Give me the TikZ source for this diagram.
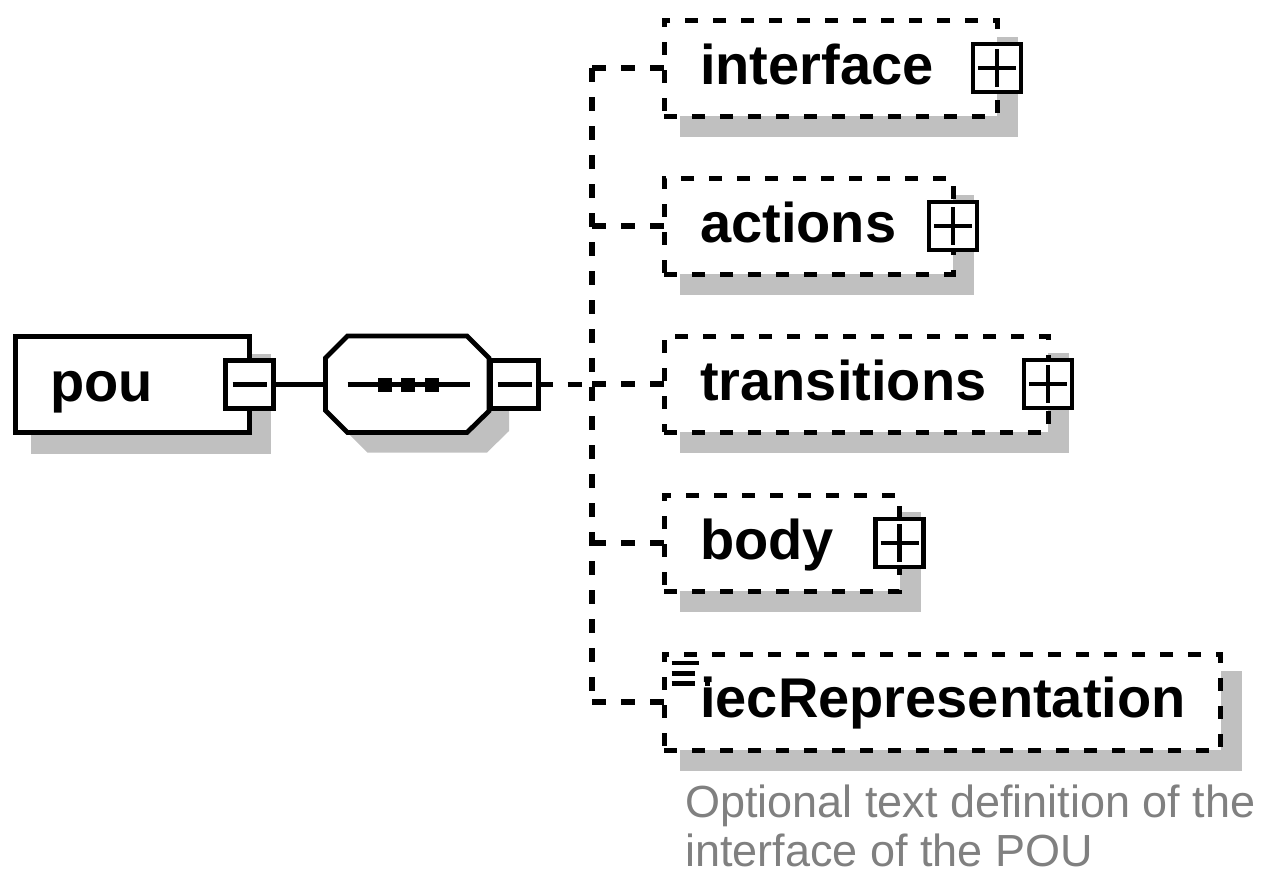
\documentclass[tikz,border=0pt]{standalone}
\usepackage{fontspec}
\newfontfamily\lib{Liberation Sans}
\usetikzlibrary{calc}
\definecolor{shadowgray}{HTML}{C0C0C0}
\definecolor{descgray}{HTML}{808080}
\begin{document}
\begin{tikzpicture}[x=1pt,y=-1pt,
  solidbox/.style={draw, line width=5pt, fill=white, rectangle, inner sep=0pt, outer sep=0pt},
  dashbox/.style={draw, line width=5pt, dash pattern=on 13pt off 15pt, fill=white, rectangle, inner sep=0pt, outer sep=0pt, minimum height=96pt},
  conn/.style={line width=4.8pt},
  dconn/.style={line width=5.4pt, dash pattern=on 14pt off 15pt},
  togglebox/.style={draw, line width=4.8pt, fill=white, rectangle, minimum size=48pt, inner sep=0pt, outer sep=0pt},
  signline/.style={line width=4.4pt},
  nametext/.style={font=\lib\bfseries\fontsize{56}{60}\selectfont, inner sep=0pt, anchor=base west},
  desctext/.style={font=\lib\fontsize{45}{50}\selectfont, text=descgray, inner sep=0pt, text depth=0pt, anchor=base west}
]
\useasboundingbox (0,0) rectangle (1263,873);

% ---------- boxes (geometry only, drawn later) ----------
\path
  (132.25,384.5) node[solidbox, minimum width=234.5pt, minimum height=96pt, draw=none, fill=none] (pou) {}
  (830.5,68)     node[dashbox, minimum width=333pt, draw=none, fill=none] (interface) {}
  (808.5,226)    node[dashbox, minimum width=289pt, draw=none, fill=none] (actions) {}
  (856,384)      node[dashbox, minimum width=384pt, draw=none, fill=none] (transitions) {}
  (781.75,543)   node[dashbox, minimum width=235.5pt, draw=none, fill=none] (body) {}
  (942.25,702)   node[dashbox, minimum width=556.5pt, draw=none, fill=none] (iec) {};

% octagon coordinates
\coordinate (o1) at (347.5,336);
\coordinate (o2) at (467,336);
\coordinate (o3) at (489,358);
\coordinate (o4) at (489,411);
\coordinate (o5) at (467,432.5);
\coordinate (o6) at (347.5,432.5);
\coordinate (o7) at (325.5,410.5);
\coordinate (o8) at (325.5,358);
\coordinate (seqL) at (325.5,384.5);
\coordinate (spine) at (592,384.5);

% ---------- shadows ----------
\foreach \n in {pou,interface,actions,transitions,body,iec}{
  \fill[shadowgray] ($(\n.north west)+(16,17)$) rectangle ($(\n.south east)+(21,21)$);
}
\fill[shadowgray] ($(o1)+(20,20)$) -- ($(o2)+(20,20)$) -- ($(o3)+(20,20)$) -- ($(o4)+(20,20)$)
  -- ($(o5)+(20,20)$) -- ($(o6)+(20,20)$) -- ($(o7)+(20,20)$) -- ($(o8)+(20,20)$) -- cycle;

% ---------- main boxes ----------
\node[solidbox, minimum width=234.5pt, minimum height=96pt] at (pou.center) {};
\foreach \n/\w in {interface/333,actions/289,transitions/384,body/235.5,iec/556.5}{
  \node[dashbox, minimum width=\w pt] at (\n.center) {};
}

% octagon (sequence compositor)
\draw[conn, fill=white, line join=miter] (o1) -- (o2) -- (o3) -- (o4) -- (o5) -- (o6) -- (o7) -- (o8) -- cycle;
\draw[conn] (347.5,384.5) -- (470,384.5);
\foreach \dx in {384.5,408,432}{
  \fill (\dx-7,377.5) rectangle (\dx+7,391.5);
}

% ---------- toggles ----------
\node[togglebox] (pouminus) at (249.5,384.5) {};
\draw[signline] ($(pouminus.center)+(-17,0)$) -- ($(pouminus.center)+(17,0)$);
\node[togglebox] (seqminus) at (514.5,384.5) {};
\draw[signline] ($(seqminus.center)+(-17,0)$) -- ($(seqminus.center)+(17,0)$);

\foreach \n in {interface,actions,transitions,body}{
  \node[togglebox] (\n plus) at (\n.east) {};
  \draw[signline] ($(\n plus.center)+(-19,0)$) -- ($(\n plus.center)+(19,0)$);
  \draw[signline] ($(\n plus.center)+(0,-19)$) -- ($(\n plus.center)+(0,19)$);
}

% ---------- connectors ----------
\draw[conn] (pouminus.east) -- (seqL);
\draw[dconn] (seqminus.east) -- (spine);
\draw[dconn] (spine |- interface.west) -- (spine |- iec.west);
\foreach \n in {interface,actions,transitions,body,iec}{
  \draw[dconn] (spine |- \n.west) -- (\n.west);
}

% ---------- texts ----------
\node[nametext] (poutext) at (50,401) {pou};
\node[nametext] (interfacetext) at (700,84) {interface};
\node[nametext] (actionstext) at (700,242) {actions};
\node[nametext] (transitionstext) at (700,400) {transitions};
\node[nametext] (bodytext) at (700,559) {body};
\node[nametext] (iectext) at (700,717) {iecRepresentation};

% simple-content icon
\draw[line width=4.4pt] (671.7,662.7) -- (699.3,662.7);
\draw[line width=4.4pt] (671.7,673.5) -- (695,673.5);
\draw[line width=4.4pt] (671.7,683.3) -- (695,683.3);
\fill (705,680.5) rectangle (710,685.5);

\node[desctext] (desc1) at (685,817) {Optional text definition of the};
\node[desctext] (desc2) at (685,866) {interface of the POU};
\end{tikzpicture}
\end{document}
